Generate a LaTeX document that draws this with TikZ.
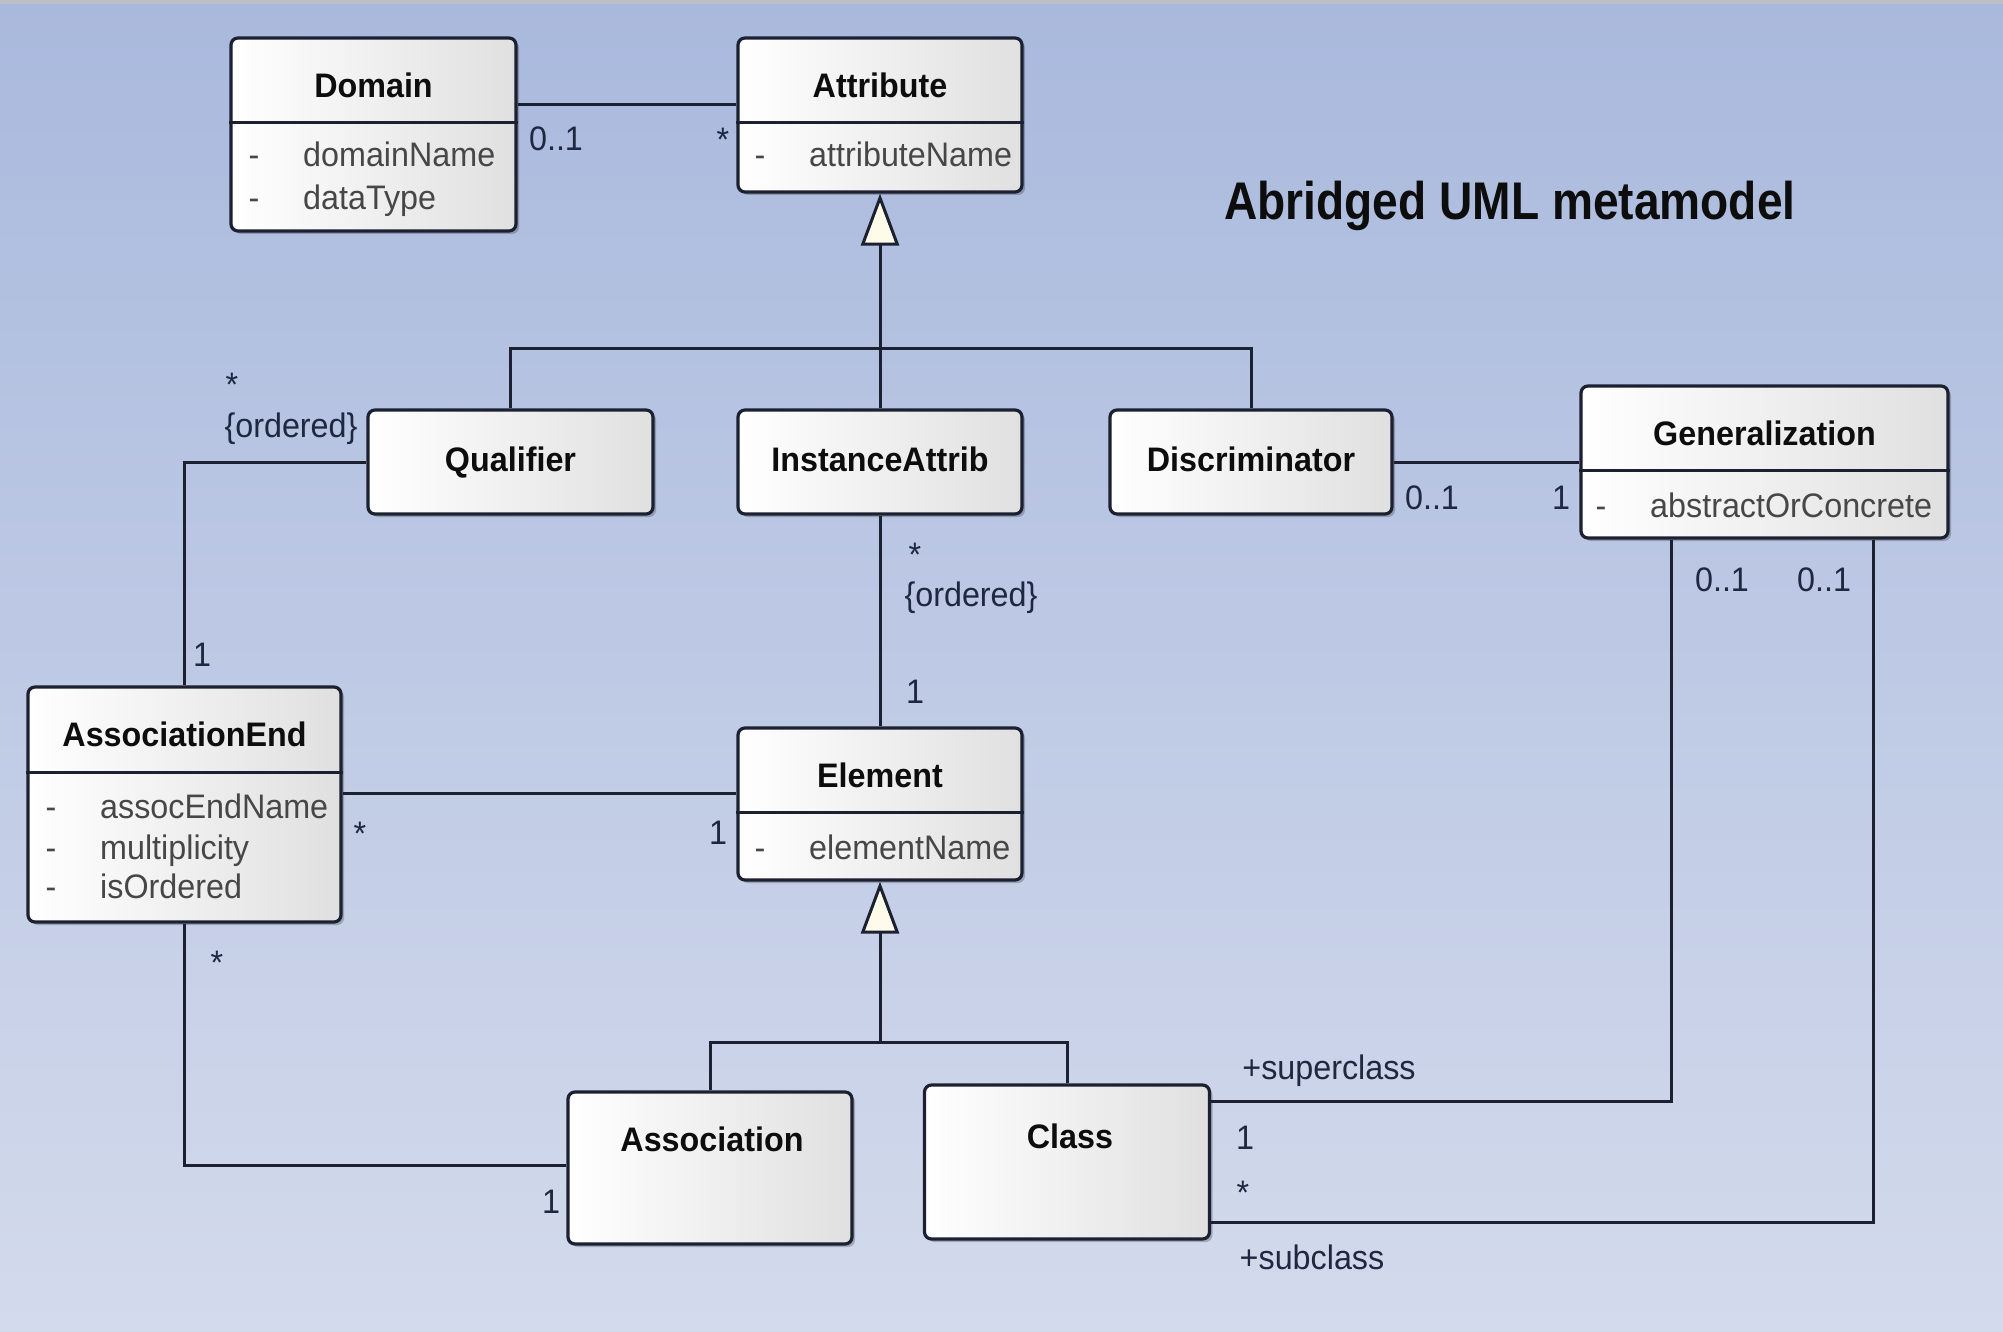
\documentclass[tikz,border=0pt]{standalone}
\usepackage{fontspec}
\setmainfont{Liberation Sans}[FakeStretch=0.95]
\newfontfamily\titlefam{Liberation Sans}[FakeStretch=0.87]
\usetikzlibrary{arrows.meta,shadows}
\definecolor{bgtop}{HTML}{A9B9DD}
\definecolor{bgbot}{HTML}{D3DAEC}
\definecolor{topstrip}{HTML}{BDBFC6}
\definecolor{linec}{HTML}{1B2130}
\definecolor{lblc}{HTML}{1F2840}
\definecolor{attrc}{HTML}{474747}
\definecolor{titlec}{HTML}{0D0D0D}
\definecolor{boxgray}{HTML}{E0E0E0}
\definecolor{boxmid}{HTML}{FAFAFA}
\definecolor{tricream}{HTML}{FFFBEA}
\tikzset{
  umlbox/.style={draw=linec, line width=3.2pt, rounded corners=7pt,
    left color=white, middle color=boxmid, right color=boxgray, inner sep=0pt,
    drop shadow={shadow xshift=3pt, shadow yshift=-3pt, opacity=0.22, fill=black}},
  ttl/.style={font=\fontsize{34}{40}\selectfont\bfseries, text=titlec, inner sep=0pt, text height=24pt, text depth=0pt},
  attrtxt/.style={font=\fontsize{34}{40}\selectfont, text=attrc, inner sep=0pt, text height=24pt, text depth=0pt, anchor=west},
  dashtxt/.style={font=\fontsize{34}{40}\selectfont, text=attrc, inner sep=0pt, text height=24pt, text depth=0pt},
  lbl/.style={font=\fontsize{34}{40}\selectfont, text=lblc, inner sep=0pt, text height=24pt, text depth=0pt},
  conn/.style={draw=linec, line width=3pt},
  genarrow/.style={conn, -{Triangle[length=52pt, width=38pt, fill=tricream, line join=miter]}},
  divline/.style={draw=linec, line width=3pt}
}
\begin{document}
\begin{tikzpicture}[x=1pt,y=-1pt]
\useasboundingbox (0,0) rectangle (2003,1332);
\shade[top color=bgtop,bottom color=bgbot] (0,0) rectangle (2003,1332);
\fill[topstrip] (0,0) rectangle (2003,4);

% title
\node[font=\titlefam\fontsize{53}{60}\selectfont\bfseries, text=titlec, inner sep=0pt] (maintitle) at (1510,206) {Abridged UML metamodel};

% boxes
\node[umlbox, minimum width=285pt, minimum height=193pt] (dom) at (373.5,134.5) {};
\node[umlbox, minimum width=284pt, minimum height=154pt] (attr) at (880,115) {};
\node[umlbox, minimum width=285pt, minimum height=104pt] (qual) at (510.5,462) {};
\node[umlbox, minimum width=284pt, minimum height=104pt] (inst) at (880,462) {};
\node[umlbox, minimum width=282pt, minimum height=104pt] (disc) at (1251,462) {};
\node[umlbox, minimum width=367pt, minimum height=152pt] (genz) at (1764.5,462) {};
\node[umlbox, minimum width=313pt, minimum height=235pt] (aend) at (184.5,804.5) {};
\node[umlbox, minimum width=284pt, minimum height=152pt] (elem) at (880,804) {};
\node[umlbox, minimum width=284pt, minimum height=152pt] (assoc) at (710,1168) {};
\node[umlbox, minimum width=285pt, minimum height=154pt] (cls) at (1067,1162) {};

% compartment dividers
\draw[divline] (dom.west |- 0,123) -- (dom.east |- 0,123);
\draw[divline] (attr.west |- 0,123) -- (attr.east |- 0,123);
\draw[divline] (genz.west |- 0,470) -- (genz.east |- 0,470);
\draw[divline] (aend.west |- 0,772) -- (aend.east |- 0,772);
\draw[divline] (elem.west |- 0,812) -- (elem.east |- 0,812);

% class names
\node[ttl] (domT) at (373.5,86) {Domain};
\node[ttl] (attrT) at (880,86) {Attribute};
\node[ttl] (qualT) at (510.5,459) {Qualifier};
\node[ttl] (instT) at (880,459) {InstanceAttrib};
\node[ttl] (discT) at (1251,459) {Discriminator};
\node[ttl] (genzT) at (1764.5,433) {Generalization};
\node[ttl] (aendT) at (184.5,734) {AssociationEnd};
\node[ttl] (elemT) at (880,775) {Element};
\node[ttl] (assocT) at (712,1139) {Association};
\node[ttl] (clsT) at (1070,1136) {Class};

% attributes
\node[dashtxt] (domD1) at (254,155) {-};
\node[attrtxt] (domA1) at (303,155) {domainName};
\node[dashtxt] (domD2) at (254,198) {-};
\node[attrtxt] (domA2) at (303,198) {dataType};
\node[dashtxt] (attrD1) at (760,155) {-};
\node[attrtxt] (attrA1) at (809,155) {attributeName};
\node[dashtxt] (genzD1) at (1601,505) {-};
\node[attrtxt] (genzA1) at (1650,505) {abstractOrConcrete};
\node[dashtxt] (aendD1) at (51,806) {-};
\node[attrtxt] (aendA1) at (100,806) {assocEndName};
\node[dashtxt] (aendD2) at (51,847) {-};
\node[attrtxt] (aendA2) at (100,847) {multiplicity};
\node[dashtxt] (aendD3) at (51,886) {-};
\node[attrtxt] (aendA3) at (100,886) {isOrdered};
\node[dashtxt] (elemD1) at (760,847) {-};
\node[attrtxt] (elemA1) at (809,847) {elementName};

% connectors
\draw[conn] (dom.east |- 0,105) -- (attr.west |- 0,105);
\draw[genarrow] (inst.north) -- (attr.south);
\draw[conn] (qual.north) |- (disc.north |- 0,349) -- (disc.north);
\draw[conn] (disc.east) -- (genz.west |- disc.east);
\draw[conn] (qual.west) -| (aend.north);
\draw[conn] (inst.south) -- (elem.north);
\draw[conn] (aend.east |- 0,793) -- (elem.west |- 0,793);
\coordinate (ej) at (880,1042);
\draw[genarrow] (ej) -- (elem.south);
\draw[conn] (assoc.north) |- (cls.north |- ej) -- (cls.north);
\draw[conn] (aend.south) |- (assoc.west |- 0,1165);
\draw[conn] (genz.south -| 1671,0) |- (cls.east |- 0,1101);
\draw[conn] (genz.south -| 1873,0) |- (cls.east |- 0,1222);

% multiplicity labels
\node[lbl] (l1) at (556,139) {0..1};
\node[lbl] (l2) at (723,140) {*};
\node[lbl] (l3) at (232,384) {*};
\node[lbl] (l4) at (291,425) {\{ordered\}};
\node[lbl] (l5) at (202,654) {1};
\node[lbl] (l6) at (915,554) {*};
\node[lbl] (l7) at (971,594) {\{ordered\}};
\node[lbl] (l8) at (915,691) {1};
\node[lbl] (l9) at (360,833) {*};
\node[lbl] (l10) at (718,832) {1};
\node[lbl] (l11) at (1432,497) {0..1};
\node[lbl] (l12) at (1561,497) {1};
\node[lbl] (l13) at (1722,579) {0..1};
\node[lbl] (l14) at (1824,579) {0..1};
\node[lbl] (l15) at (217,962) {*};
\node[lbl] (l16) at (551,1201) {1};
\node[lbl] (l17) at (1329,1067) {+superclass};
\node[lbl] (l18) at (1245,1137) {1};
\node[lbl] (l19) at (1243,1192) {*};
\node[lbl] (l20) at (1312,1257) {+subclass};
\end{tikzpicture}
\end{document}
